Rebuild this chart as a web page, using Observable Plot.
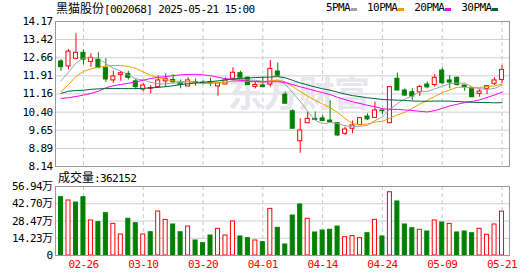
<!DOCTYPE html>
<html><head><meta charset="utf-8">
<script src="https://cdn.jsdelivr.net/npm/d3@7"></script>
<script src="https://cdn.jsdelivr.net/npm/@observablehq/plot@0.6"></script>
<style>
body{margin:0;background:#fff;}
#wrap{position:relative;width:530px;height:276px;overflow:hidden;background:#fff;}
.abs{position:absolute;white-space:pre;line-height:16px;color:#000;}
.mono{font-family:"DejaVu Sans Mono","Noto Sans CJK SC",monospace;font-size:11px;letter-spacing:-0.6px;}
.cjk{font-family:"Noto Sans CJK SC";font-size:12px;letter-spacing:0;}
</style></head><body><div id="wrap"></div>
<script>
// ---------------- data ----------------
const stockName = "黑猫股份";
const stockCode = "002068";
const stamp = "2025-05-21 15:00";
const volumeLabel = "成交量";
const dates = [
  "02-21","02-24","02-25","02-26","02-27","02-28",
  "03-03","03-04","03-05","03-06","03-07",
  "03-10","03-11","03-12","03-13","03-14",
  "03-17","03-18","03-19","03-20","03-21",
  "03-24","03-25","03-26","03-27","03-28","03-31",
  "04-01","04-02","04-03",
  "04-07","04-08","04-09","04-10","04-11",
  "04-14","04-15","04-16","04-17","04-18",
  "04-21","04-22","04-23","04-24","04-25",
  "04-28","04-29","04-30",
  "05-06","05-07","05-08","05-09",
  "05-12","05-13","05-14","05-15","05-16",
  "05-19","05-20","05-21"
];
const open = [12.51,12.30,12.62,12.87,12.49,12.58,12.23,11.72,11.95,11.99,
  11.68,11.34,11.37,11.44,11.68,11.74,11.62,11.47,11.65,11.63,
  11.65,11.47,11.55,11.79,12.02,11.83,11.45,11.51,11.55,12.09,
  11.13,10.44,9.19,9.94,10.12,10.14,10.05,9.94,9.50,9.71,
  9.87,10.22,10.16,10.47,9.94,11.79,11.30,11.23,11.23,11.55,
  11.53,12.13,11.72,11.83,11.51,11.40,11.16,11.37,11.58,11.74];
const high = [12.58,13.01,13.66,12.99,12.83,12.87,12.62,12.10,12.10,12.10,
  11.78,11.60,11.51,11.92,11.99,11.96,11.74,11.83,11.78,11.70,
  11.81,11.60,11.83,12.24,12.10,11.86,11.65,11.86,12.55,12.44,
  11.23,10.50,10.12,10.41,10.41,10.26,10.88,9.94,9.78,10.03,
  10.15,10.33,10.82,10.49,11.46,12.03,11.37,11.37,11.51,11.65,
  11.96,12.24,11.92,11.86,11.51,11.40,11.34,11.51,11.83,12.34];
const low = [12.10,12.16,12.60,12.37,12.27,12.23,11.65,11.60,11.68,11.74,
  11.33,11.26,11.16,11.42,11.44,11.58,11.37,11.47,11.48,11.53,
  11.47,11.07,11.55,11.79,11.83,11.52,11.37,11.44,11.44,11.88,
  10.75,9.71,8.69,9.94,10.05,10.03,9.98,9.39,9.43,9.50,
  9.87,10.05,10.16,10.30,9.92,11.30,11.05,10.88,11.05,11.37,
  11.44,11.55,11.37,11.48,11.27,11.02,11.02,11.13,11.51,11.58];
const close = [12.27,12.92,12.87,12.58,12.66,12.23,11.76,11.88,12.02,11.83,
  11.44,11.51,11.40,11.72,11.79,11.65,11.53,11.72,11.62,11.60,
  11.58,11.60,11.72,12.04,11.83,11.52,11.53,11.44,12.20,11.92,
  10.75,9.71,9.64,10.12,10.08,10.03,9.98,9.43,9.68,9.85,
  10.15,10.10,10.47,10.44,11.44,11.30,11.09,11.05,11.45,11.43,
  11.83,11.60,11.63,11.53,11.44,11.02,11.26,11.48,11.72,12.16];
const volume = [481000,454000,437000,481000,289000,275000,349000,261000,173000,303000,
  267000,173000,192000,363000,294000,256000,192000,239000,124000,102000,
  165000,220000,165000,281000,157000,143000,124000,110000,385000,228000,
  91000,330000,421000,303000,190000,206000,212000,239000,151000,160000,
  143000,184000,294000,157000,522000,446000,256000,225000,212000,198000,
  289000,272000,261000,190000,198000,184000,220000,171000,256000,362152];
const ma5Early = [11.70,12.05,12.45,12.65];
const ma10Early = [11.25,11.55,11.88,12.10,12.20,12.27,12.31,12.34,12.34];
const ma20Early = [10.97,11.00,11.05,11.11,11.18,11.27,11.41,11.50,11.55,11.60,
  11.66,11.73,11.80,11.85,11.88,11.92,11.95,11.97,11.97];
const ma30Early = [11.18,11.27,11.30,11.31,11.35,11.37,11.38,11.38,11.38,11.38,
  11.38,11.39,11.41,11.43,11.46,11.50,11.55,11.58,11.61,11.64,
  11.67,11.70,11.74,11.78,11.80,11.82,11.84,11.85,11.86];
const maNames = ["5PMA","10PMA","20PMA","30PMA"];
const maWindows = [5,10,20,30];
const priceTicks = [8.14,8.89,9.65,10.40,11.16,11.91,12.66,13.42,14.17];
const volTicks = [0,142350,284700,427050,569400];
const volTickLabels = ["0","14.23万","28.47万","42.70万","56.94万"];
const dateTicks = ["02-26","03-10","03-20","04-01","04-14","04-24","05-09","05-21"];
const lastVolume = 362152;

// ---------------- styles ----------------
const RED = "#ff0000", GREEN = "#008000";
const maColors = ["#a0a0a0","#f0a000","#ff00ff","#00663a"];
const FONT = '"DejaVu Sans Mono","Noto Sans CJK SC",monospace';

// ---------------- build ----------------
const earlies = [ma5Early, ma10Early, ma20Early, ma30Early];
const maSeries = maWindows.map((k, m) => close.map((c, i) =>
  i < k - 1 ? earlies[m][i] : d3.mean(close.slice(i - k + 1, i + 1))));
const bars = dates.map((d, i) => ({
  i, o: open[i], h: high[i], l: low[i], c: close[i], v: volume[i],
  up: close[i] >= open[i],
  volUp: i === 0 ? close[i] >= open[i] : close[i] > close[i - 1]
}));
const tickIdx = dateTicks.map(t => dates.indexOf(t));

const common = {
  width: 530, marginLeft: 55, marginRight: 21,
  style: {fontFamily: FONT, fontSize: "11px", letterSpacing: "-0.6px", color: "#000", background: "transparent"},
  color: {type: "identity"}
};
const xScale = {type: "linear", domain: [-0.74, 60.0], axis: null, label: null};
const HALF = 0.27;

const priceSvg = Plot.plot({
  ...common, height: 172, marginTop: 21, marginBottom: 6,
  x: xScale,
  y: {domain: [8.14, 14.17], axis: null, label: null},
  marks: [
    Plot.ruleY(priceTicks, {stroke: "#d0d0d0"}),
    Plot.ruleX(tickIdx, {stroke: "#c8c8c8", strokeDasharray: "4,3"}),
    Plot.text(["东方财富"], {frameAnchor: "middle", dx: 16, dy: 1, fontSize: 36, fontWeight: "bold",
      fill: "#e6e6ec", fontFamily: "Noto Sans CJK SC"}),
    Plot.ruleX(bars, {x: "i", y1: "l", y2: "h", stroke: d => d.up ? RED : GREEN}),
    Plot.rect(bars, {x1: d => d.i - HALF, x2: d => d.i + HALF, y1: "o", y2: "c",
      fill: d => d.up ? "#ffffff" : GREEN, stroke: d => d.up ? RED : GREEN}),
    ...maSeries.map((s, m) => Plot.line(s, {x: (d, i) => i, y: d => d, stroke: maColors[m], strokeWidth: 1})),
    Plot.frame({stroke: "#999"}),
    Plot.axisY(priceTicks, {tickSize: 0, tickPadding: 3, tickFormat: d => d.toFixed(2), label: null})
  ]
});

const volSvg = Plot.plot({
  ...common, height: 96, marginTop: 6, marginBottom: 21,
  x: xScale,
  y: {domain: [0, 569400], axis: null, label: null},
  marks: [
    Plot.ruleY(volTicks, {stroke: "#d0d0d0"}),
    Plot.ruleX(tickIdx, {stroke: "#c8c8c8", strokeDasharray: "4,3"}),
    Plot.rect(bars, {x1: d => d.i - HALF, x2: d => d.i + HALF, y1: 0, y2: "v",
      fill: d => d.volUp ? "#ffffff" : GREEN, stroke: d => d.volUp ? RED : GREEN}),
    Plot.frame({stroke: "#999"}),
    Plot.axisY(volTicks, {tickSize: 0, tickPadding: 3, tickFormat: d => volTickLabels[volTicks.indexOf(d)], label: null}),
    Plot.axisX(tickIdx, {tickSize: 0, tickPadding: 5, tickFormat: i => dates[i], color: RED, label: null})
  ]
});

const wrap = document.getElementById("wrap");
for (const [svg, top] of [[priceSvg, 0], [volSvg, 180]]) {
  svg.style.position = "absolute"; svg.style.left = "0px"; svg.style.top = top + "px";
  wrap.appendChild(svg);
}

function addDiv(html, left, top, cls) {
  const el = document.createElement("div");
  el.className = "abs " + (cls || "mono");
  el.style.left = left + "px"; el.style.top = top + "px";
  el.innerHTML = html;
  wrap.appendChild(el);
  return el;
}
addDiv(`<span class="cjk">${stockName}</span>[${stockCode}] ${stamp}`, 56, 0);
addDiv(`<span class="cjk">${volumeLabel}</span>:${lastVolume}`, 58, 169);

const legend = addDiv("", 326, 0);
legend.style.display = "flex"; legend.style.alignItems = "center";
maNames.forEach((n, m) => {
  const t = document.createElement("span"); t.textContent = n; legend.appendChild(t);
  const mk = document.createElement("span");
  mk.style.cssText = `display:inline-block;width:6px;height:3px;background:${maColors[m]};margin:3px ${m < 3 ? 10 : 0}px 0 1px;`;
  legend.appendChild(mk);
});
</script></body></html>
